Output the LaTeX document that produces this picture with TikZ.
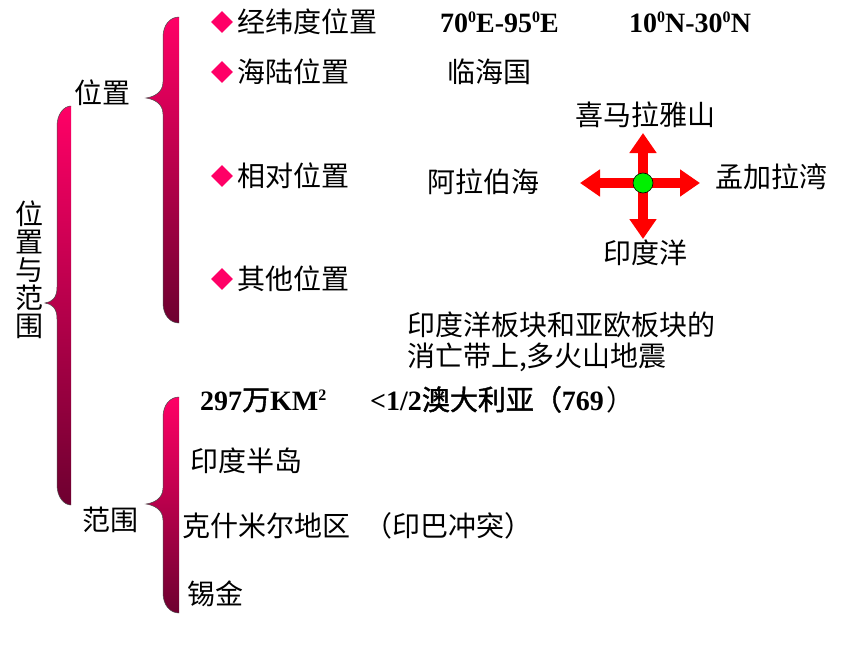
\documentclass[tikz,border=0pt]{standalone}
\usepackage{fontspec}
\setmainfont{Liberation Serif}
\newfontfamily\cjk{Noto Sans CJK SC}
\newfontfamily\cjkb{Noto Sans CJK SC}[FakeBold=1.5]
\usetikzlibrary{arrows.meta,shapes.geometric}
\definecolor{pinkA}{RGB}{255,0,102}
\definecolor{pinkD}{RGB}{110,0,48}
\definecolor{arrred}{RGB}{255,0,0}
\definecolor{dotgreen}{RGB}{0,240,0}
\newcommand\sups[1]{\raisebox{0.34em}{\fontsize{16}{16}\selectfont #1}}
% #1 right x, #2 left x, #3 tip x, #4 top y, #5 tip y, #6 bottom y
\newcommand\mybrace[6]{%
  \shade[top color=pinkA, bottom color=pinkD]
    (#1,#4) .. controls (#2+7,#4) and (#2,#4+8) .. (#2,#4+20)
    -- (#2,#5-16) .. controls (#2,#5-5) and (#3+7,#5-1) .. (#3,#5)
    .. controls (#3+7,#5+1) and (#2,#5+5) .. (#2,#5+16)
    -- (#2,#6-20) .. controls (#2,#6-8) and (#2+7,#6) .. (#1,#6) -- cycle;
  \draw[line width=0.5pt, black!70]
    (#1,#4) .. controls (#2+7,#4) and (#2,#4+8) .. (#2,#4+20)
    -- (#2,#5-16) .. controls (#2,#5-5) and (#3+7,#5-1) .. (#3,#5)
    .. controls (#3+7,#5+1) and (#2,#5+5) .. (#2,#5+16)
    -- (#2,#6-20) .. controls (#2,#6-8) and (#2+7,#6) .. (#1,#6);
}
\tikzset{
  txt/.style={anchor=base west, inner sep=0pt, font=\cjk\fontsize{28}{28}\selectfont},
  ctxt/.style={anchor=base, inner sep=0pt, font=\cjk\fontsize{28}{28}\selectfont},
  lat/.style={anchor=base west, inner sep=0pt, font=\bfseries\fontsize{28}{28}\selectfont},
  bullet/.style={diamond, fill=pinkA, inner sep=0pt, minimum width=22pt, minimum height=22pt},
  arr/.style={draw=arrred, line width=10pt, -{Triangle[length=20pt,width=26pt]}},
}
\begin{document}
\begin{tikzpicture}[x=1pt,y=-1pt]
\fill[white] (0,0) rectangle (860,645);
\useasboundingbox (0,0) rectangle (860,645);

% braces
\mybrace{71}{57}{45}{106}{303}{505}
\mybrace{179}{163}{146}{17}{98}{323}
\mybrace{179}{163}{146}{397}{504}{613}

% left labels
\node[inner sep=0pt, align=center, font=\cjk\fontsize{28}{28}\selectfont] (wzyfw) at (30,270) {位\\置\\与\\范\\围};
\node[txt] (wz) at (74,103) {位置};
\node[txt] (fw) at (82,530) {范围};

% bullets
\node[bullet] (b1) at (222,22) {};
\node[bullet] (b2) at (222,72) {};
\node[bullet] (b3) at (222,176) {};
\node[bullet] (b4) at (222,279) {};

\node[txt] (jwd) at (237,32) {经纬度位置};
\node[lat] (lon) at (440,32) {70\sups{0}E-95\sups{0}E};
\node[lat] (lat) at (629,32) {10\sups{0}N-30\sups{0}N};

\node[txt] (hl) at (237,82) {海陆位置};
\node[txt] (lhg) at (447,82) {临海国};

\node[txt] (xd) at (237,186) {相对位置};
\node[txt] (albh) at (427,192) {阿拉伯海};

\node[txt] (qt) at (237,289) {其他位置};
\node[txt] (bk1) at (407,335) {印度洋板块和亚欧板块的};
\node[txt] (bk2) at (407,366) {消亡带上,多火山地震};

% cross of arrows
\coordinate (cc) at (643,183);
\coordinate (tu) at (643,133);
\coordinate (tl) at (580,183);
\coordinate (tr) at (700,183);
\coordinate (td) at (643,239);
\draw[arr] (cc) -- (tu);
\draw[arr] (cc) -- (tl);
\draw[arr] (cc) -- (tr);
\draw[arr] (cc) -- (td);
\node[circle, fill=dotgreen, draw=black, line width=0.6pt, minimum size=20pt, inner sep=0pt] (c) at (cc) {};
\node[ctxt] (xmly) at (645,125) {喜马拉雅山};
\node[txt] (mjlw) at (715,187) {孟加拉湾};
\node[ctxt] (ydy) at (645,263) {印度洋};

% range
\node[lat] (area) at (200,410) {297{\cjkb\mdseries 万}KM\sups{2}};
\node[lat] (cmp) at (370,410) {<1/2{\cjkb\mdseries 澳大利亚（}769\hspace{3pt}{\cjk\mdseries ）}};
\node[txt] (ydbd) at (190,471) {印度半岛};
\node[txt] (ksml) at (182,536) {克什米尔地区\hspace{14pt}（印巴冲突）};
\node[txt] (xj) at (187,604) {锡金};
\end{tikzpicture}
\end{document}
